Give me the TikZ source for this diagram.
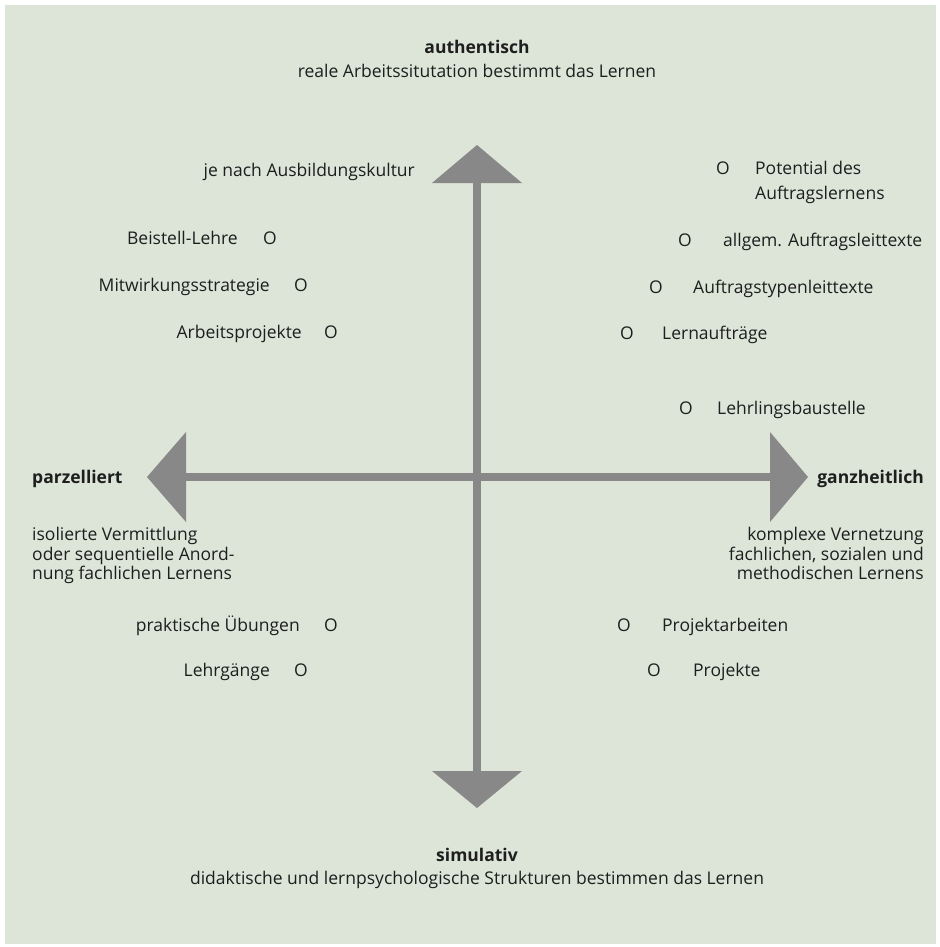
\documentclass[tikz,border=0pt]{standalone}
\usepackage{fontspec}
\setmainfont{Open Sans}
\definecolor{bg}{RGB}{220,229,216}
\definecolor{axisgray}{RGB}{136,136,136}
\definecolor{ink}{RGB}{30,30,30}
\begin{document}
\begin{tikzpicture}[x=1pt,y=-1pt,
  lbl/.style={inner sep=0pt,text=ink,font=\fontsize{17.5}{25}\selectfont},
  ttl/.style={lbl,font=\fontsize{17.5}{25}\selectfont\bfseries},
  dot/.style={lbl,anchor=base},
  itemR/.style={lbl,anchor=base west},
  itemL/.style={lbl,anchor=base east},
  shaft/.style={draw=axisgray,line width=8pt},
  head/.style={fill=axisgray,draw=none}]
\useasboundingbox (0,0) rectangle (939,947);
\fill[white] (0,0) rectangle (939,947);
\fill[bg] (5,5) rectangle (936,944);
% axes
\coordinate (N) at (477,145);
\coordinate (S) at (477,808);
\coordinate (W) at (147,477);
\coordinate (E) at (808,477);
\coordinate (Nb) at (477,183);
\coordinate (Sb) at (477,771);
\coordinate (Wb) at (186,477);
\coordinate (Eb) at (770,477);
\draw[shaft] (Nb) -- (Sb);
\draw[shaft] (Wb) -- (Eb);
\fill[head] (N) -- ([xshift=45pt]Nb) -- ([xshift=-45pt]Nb) -- cycle;
\fill[head] (S) -- ([xshift=45pt]Sb) -- ([xshift=-45pt]Sb) -- cycle;
\fill[head] (W) -- ([yshift=45pt]Wb) -- ([yshift=-45pt]Wb) -- cycle;
\fill[head] (E) -- ([yshift=45pt]Eb) -- ([yshift=-45pt]Eb) -- cycle;
% titles
\node[ttl,anchor=base] (auth) at (477,54) {authentisch};
\node[lbl,anchor=base] (authsub) at (477,78) {reale Arbeitssitutation bestimmt das Lernen};
\node[ttl,anchor=base] (sim) at (477,861) {simulativ};
\node[lbl,anchor=base] (simsub) at (477,884) {didaktische und lernpsychologische Strukturen bestimmen das Lernen};
\node[ttl,anchor=base west] (parz) at (32,483) {parzelliert};
\node[ttl,anchor=base east] (ganz) at (924,483) {ganzheitlich};
\node[lbl,anchor=north west,align=left,font=\fontsize{17.5}{19.5}\selectfont] (parzsub) at (32,527) {isolierte Vermittlung\\oder sequentielle Anord-\\nung fachlichen Lernens};
\node[lbl,anchor=north east,align=right,font=\fontsize{17.5}{19.5}\selectfont] (ganzsub) at (924,527) {komplexe Vernetzung\\fachlichen, sozialen und\\methodischen Lernens};
% items top left
\node[itemL] (jenach) at (415,176) {je nach Ausbildungskultur};
\node[itemL] (beis) at (238,244) {Beistell-Lehre};
\node[dot] (beisO) at (270,244) {O};
\node[itemL] (mitw) at (270,291) {Mitwirkungsstrategie};
\node[dot] (mitwO) at (301,291) {O};
\node[itemL] (arbp) at (302,338) {Arbeitsprojekte};
\node[dot] (arbpO) at (331,338) {O};
% items bottom left
\node[itemL] (prak) at (300,631) {praktische Übungen};
\node[dot] (prakO) at (331,631) {O};
\node[itemL] (lehrg) at (270,676) {Lehrgänge};
\node[dot] (lehrgO) at (301,676) {O};
% items top right
\node[dot] (potO) at (723,174) {O};
\node[lbl,anchor=base west,align=left] (pot) at (755,199) {Potential des\\Auftragslernens};
\node[dot] (allgO) at (685,246) {O};
\node[itemR] (allg) at (723,246) {allgem. Auftragsleittexte};
\node[dot] (atypO) at (656,293) {O};
\node[itemR] (atyp) at (693,293) {Auftragstypenleittexte};
\node[dot] (lernO) at (627,339) {O};
\node[itemR] (lern) at (662,339) {Lernaufträge};
\node[dot] (lbauO) at (686,414) {O};
\node[itemR] (lbau) at (717,414) {Lehrlingsbaustelle};
% items bottom right
\node[dot] (pjaO) at (624,631) {O};
\node[itemR] (pja) at (662,631) {Projektarbeiten};
\node[dot] (pjO) at (654,676) {O};
\node[itemR] (pj) at (693,676) {Projekte};
\end{tikzpicture}
\end{document}
